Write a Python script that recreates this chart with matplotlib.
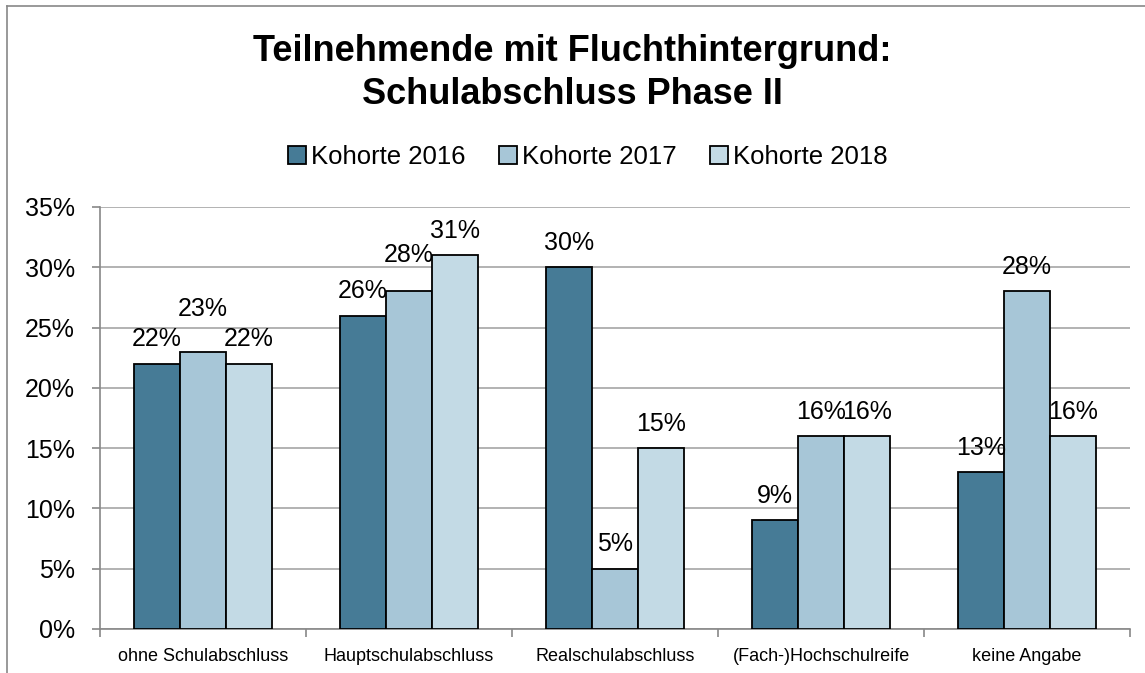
import numpy as np
import matplotlib
matplotlib.use('Agg')
import matplotlib.pyplot as plt
from matplotlib.lines import Line2D
from matplotlib.ticker import FuncFormatter

plt.rcParams['font.family'] = ['Liberation Sans', 'DejaVu Sans']

# Data
categories = ['ohne Schulabschluss', 'Hauptschulabschluss', 'Realschulabschluss',
              '(Fach-)Hochschulreife', 'keine Angabe']
series_names = ['Kohorte 2016', 'Kohorte 2017', 'Kohorte 2018']
kohorte_2016 = [22, 26, 30, 9, 13]
kohorte_2017 = [23, 28, 5, 16, 28]
kohorte_2018 = [22, 31, 15, 16, 16]
title = 'Teilnehmende mit Fluchthintergrund:\nSchulabschluss Phase II'

# Styling
colors = ['#467b96', '#a7c6d7', '#c3dae5']
bar_w = 0.2233
# extra lift (points) for labels that Excel moved up to avoid overlaps
extra_lift = [[0, 0, 0, 0, 0], [13, 9, 0, 0, 0], [0, 0, 0, 0, 0]]

fig = plt.figure(figsize=(11.45, 6.73), dpi=100)
ax = fig.add_axes([100 / 1145, 1 - 629 / 673, 1030 / 1145, 422 / 673])

x = np.arange(len(categories))
all_series = [kohorte_2016, kohorte_2017, kohorte_2018]
for i, vals in enumerate(all_series):
    pos = x + (i - 1) * bar_w
    ax.bar(pos, vals, width=bar_w, color=colors[i], edgecolor='black',
           linewidth=1.3, label=series_names[i], zorder=3)
    for j, v in enumerate(vals):
        ax.annotate(f'{v}%', (pos[j], v), xytext=(0, 12.5 + extra_lift[i][j]),
                    textcoords='offset points', ha='center', va='baseline',
                    fontsize=18, zorder=4)

ax.set_xlim(-0.5, len(categories) - 0.5)
ax.set_ylim(0, 35)
ax.set_yticks(np.arange(0, 36, 5))
ax.yaxis.set_major_formatter(FuncFormatter(lambda v, p: f'{int(v)}%'))
ax.yaxis.grid(True, color='#a6a6a6', linewidth=1.2, zorder=0)
ax.set_axisbelow(True)

# category boundaries as ticks, labels centered under groups
ax.set_xticks(np.arange(-0.5, len(categories), 1.0))
ax.set_xticklabels([])
ax.set_xticks(x, minor=True)
ax.set_xticklabels(categories, minor=True, fontsize=13)
ax.tick_params(axis='x', which='minor', length=0, pad=14)
ax.tick_params(axis='x', which='major', length=6, color='#888888', width=1.2)
ax.tick_params(axis='y', length=6, color='#888888', width=1.2, labelsize=18, pad=12)

for s in ['top', 'right']:
    ax.spines[s].set_visible(False)
for s in ['left', 'bottom']:
    ax.spines[s].set_color('#888888')
    ax.spines[s].set_linewidth(1.2)

fig.text(0.5, 1 - 73 / 673, title, ha='center', va='center', fontsize=26,
         fontweight='bold', linespacing=1.3)

fig.legend(loc='center', bbox_to_anchor=(588 / 1145, 1 - 157 / 673), ncol=3, frameon=False,
           fontsize=18.5, handlelength=0.7, handleheight=0.7, handletextpad=0.2,
           columnspacing=1.3)

# outer chart border (left and top visible)
fig.add_artist(Line2D([7 / 1145, 7 / 1145], [0, 1 - 6 / 673], transform=fig.transFigure,
                      color='#888888', linewidth=1.2))
fig.add_artist(Line2D([7 / 1145, 1], [1 - 6 / 673, 1 - 6 / 673], transform=fig.transFigure,
                      color='#888888', linewidth=1.2))

fig.savefig('out.png', dpi=100, facecolor='white')
